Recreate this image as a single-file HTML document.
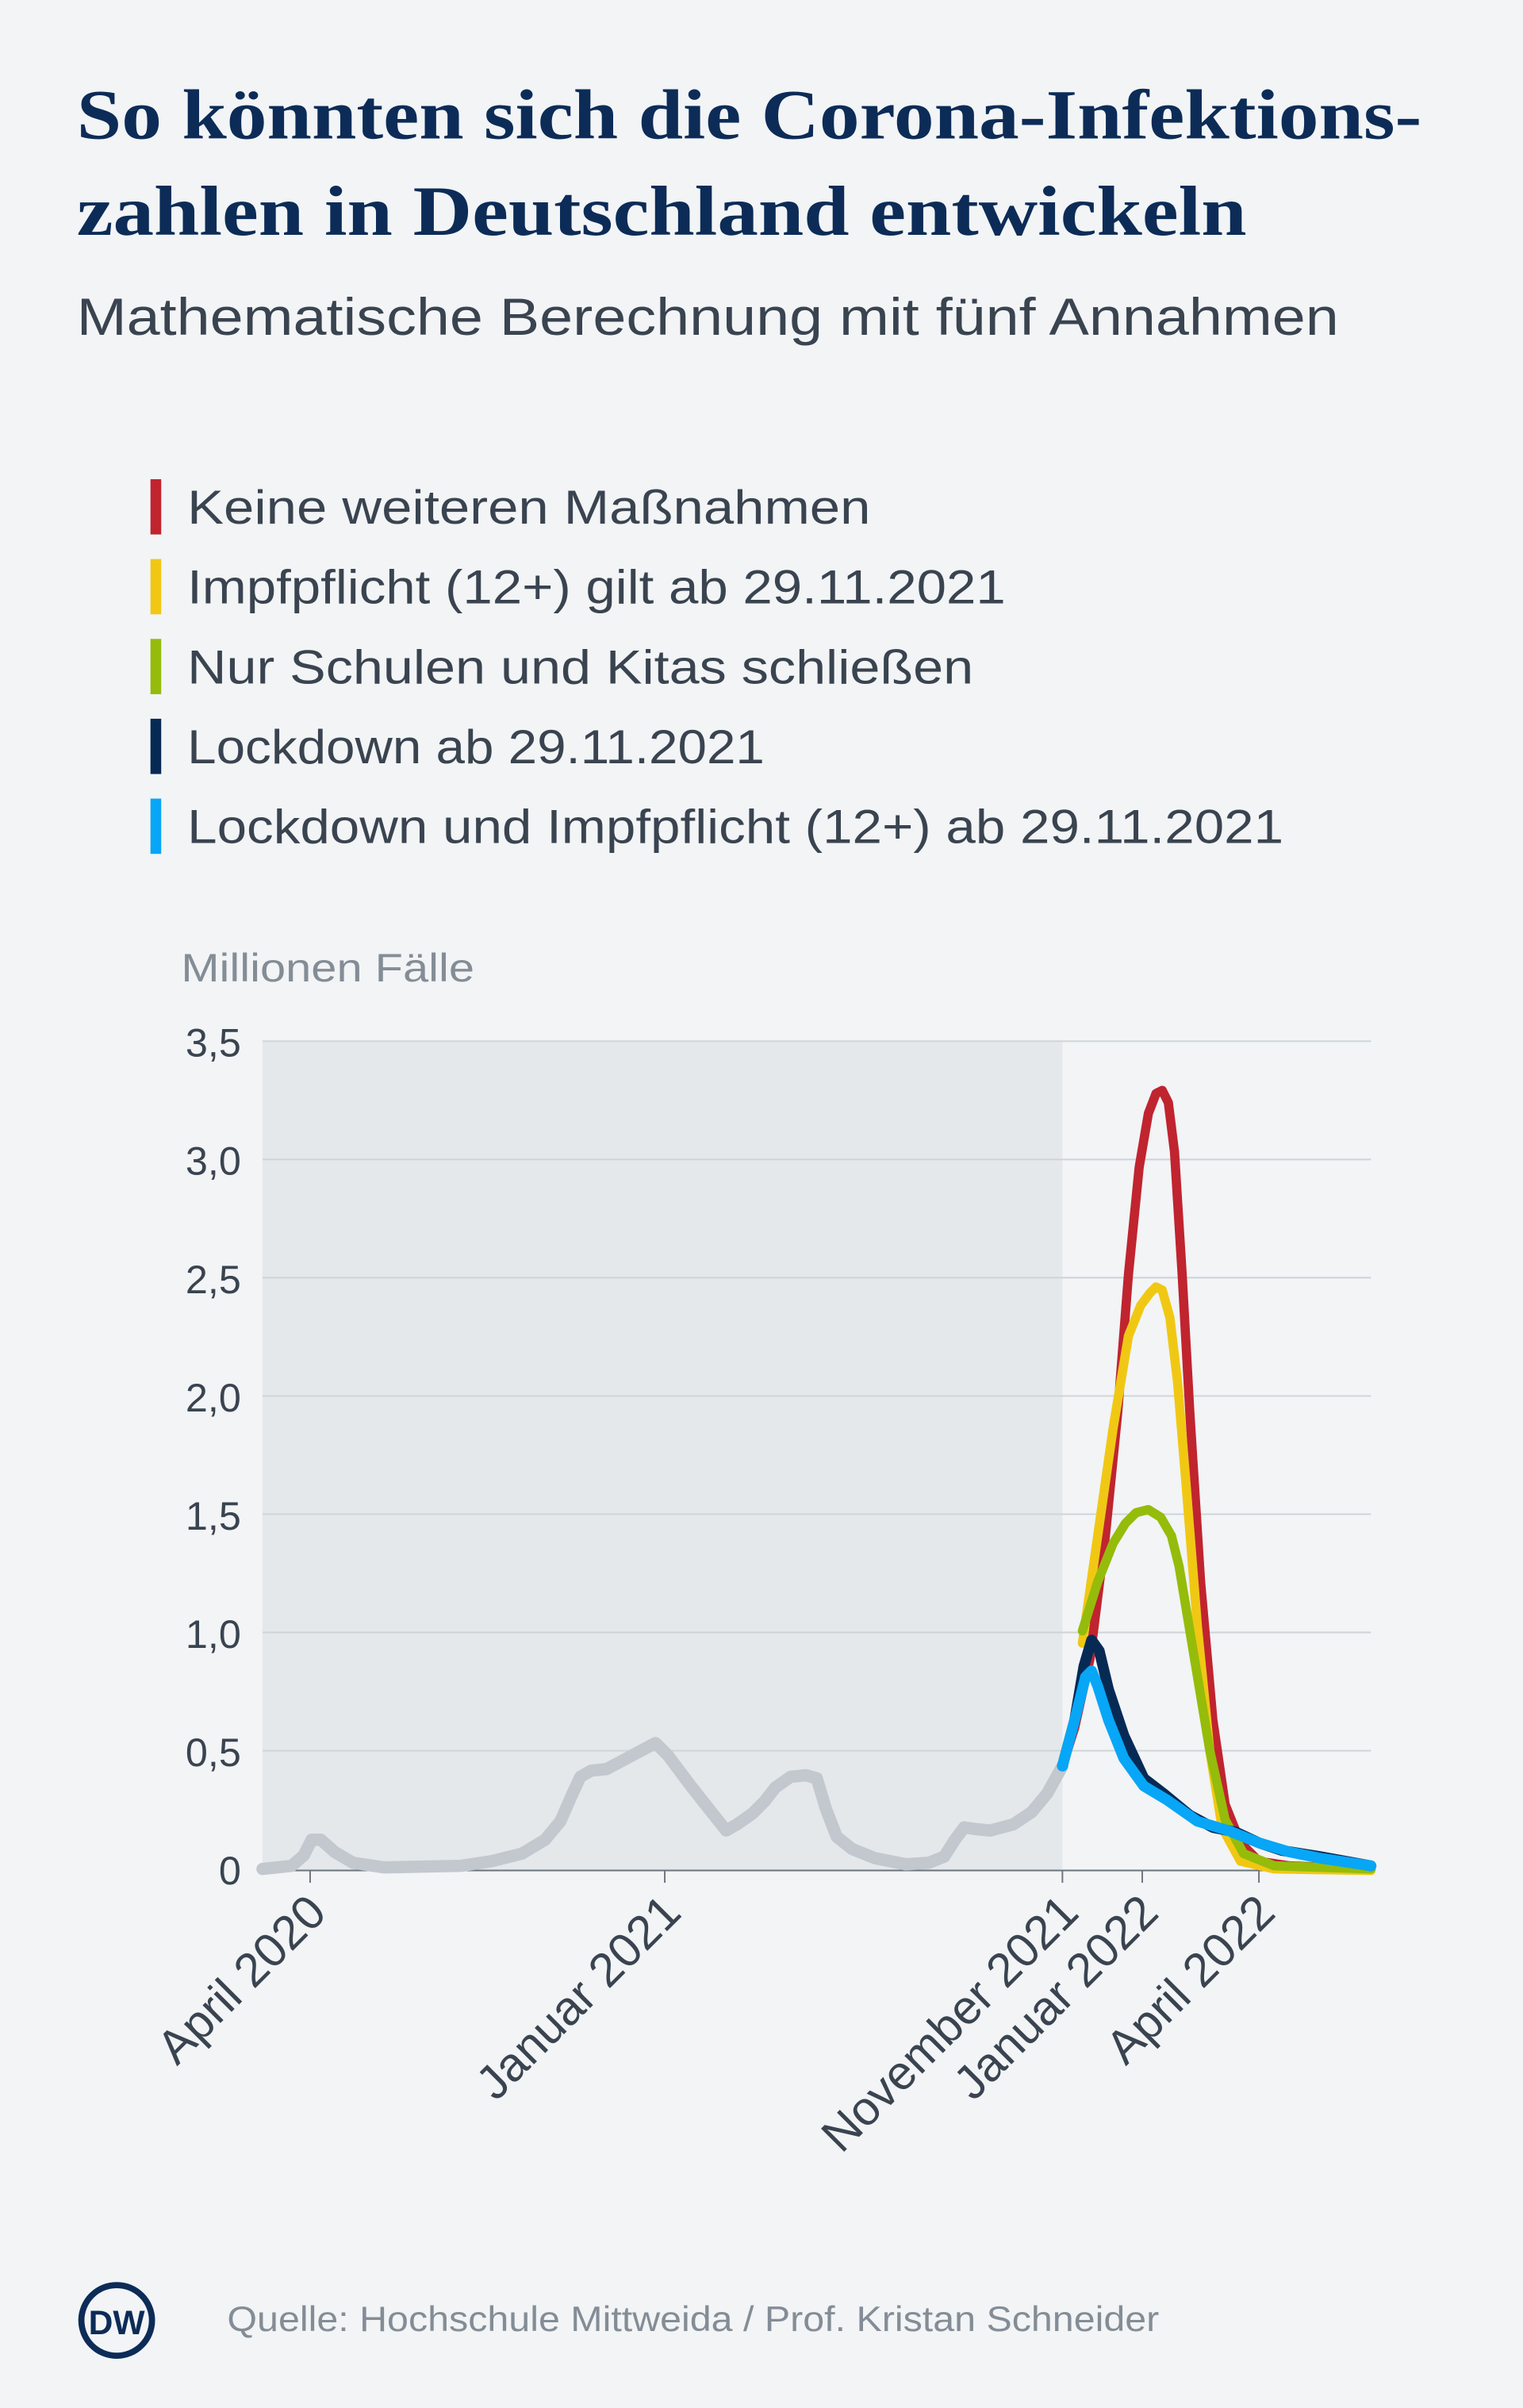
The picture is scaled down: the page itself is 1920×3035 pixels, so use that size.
<!DOCTYPE html>
<html><head><meta charset="utf-8"><style>
html,body{margin:0;padding:0;background:#f2f4f6;}
svg{display:block;}
</style></head><body>
<svg width="1920" height="3035" viewBox="0 0 992 1568" xmlns="http://www.w3.org/2000/svg">
<rect width="992" height="1568" fill="#f2f4f6"/>
<g font-family="Liberation Serif, serif" font-weight="bold" fill="#0c2c57" font-size="46">
<text x="50" y="90" textLength="876" lengthAdjust="spacingAndGlyphs">So könnten sich die Corona-Infektions-</text>
<text x="50" y="153" textLength="762" lengthAdjust="spacingAndGlyphs">zahlen in Deutschland entwickeln</text>
</g>
<text x="50" y="218" font-family="Liberation Sans, sans-serif" font-size="34" fill="#3a4450" textLength="822" lengthAdjust="spacingAndGlyphs">Mathematische Berechnung mit fünf Annahmen</text>
<g font-family="Liberation Sans, sans-serif" font-size="31" fill="#3a4450">
<rect x="98" y="312" width="7" height="36" fill="#c0242f"/><text x="122" y="341" textLength="445" lengthAdjust="spacingAndGlyphs">Keine weiteren Maßnahmen</text>
<rect x="98" y="364" width="7" height="36" fill="#f0c814"/><text x="122" y="393" textLength="533" lengthAdjust="spacingAndGlyphs">Impfpflicht (12+) gilt ab 29.11.2021</text>
<rect x="98" y="416" width="7" height="36" fill="#95bc0a"/><text x="122" y="445" textLength="512" lengthAdjust="spacingAndGlyphs">Nur Schulen und Kitas schließen</text>
<rect x="98" y="468" width="7" height="36" fill="#072a55"/><text x="122" y="497" textLength="376" lengthAdjust="spacingAndGlyphs">Lockdown ab 29.11.2021</text>
<rect x="98" y="520" width="7" height="36" fill="#07a6f6"/><text x="122" y="549" textLength="714" lengthAdjust="spacingAndGlyphs">Lockdown und Impfpflicht (12+) ab 29.11.2021</text>
</g>
<text x="118" y="639" font-family="Liberation Sans, sans-serif" font-size="26" fill="#848d96" textLength="191" lengthAdjust="spacingAndGlyphs">Millionen Fälle</text>
<rect x="171" y="678" width="521" height="540" fill="#e4e8eb"/>
<g stroke="#cdd3d8" stroke-width="1">
<line x1="171" y1="678" x2="893" y2="678"/><line x1="171" y1="755" x2="893" y2="755"/>
<line x1="171" y1="832" x2="893" y2="832"/><line x1="171" y1="909" x2="893" y2="909"/>
<line x1="171" y1="986" x2="893" y2="986"/><line x1="171" y1="1063" x2="893" y2="1063"/>
<line x1="171" y1="1140" x2="893" y2="1140"/>
</g>
<line x1="171" y1="1218" x2="893" y2="1218" stroke="#6b747c" stroke-width="1"/>
<g stroke="#6b747c" stroke-width="1">
<line x1="202" y1="1218" x2="202" y2="1226"/><line x1="433" y1="1218" x2="433" y2="1226"/>
<line x1="692" y1="1218" x2="692" y2="1226"/><line x1="744" y1="1218" x2="744" y2="1226"/>
<line x1="820" y1="1218" x2="820" y2="1226"/>
</g>
<g font-family="Liberation Sans, sans-serif" font-size="26" fill="#3a4450" text-anchor="end">
<text x="157" y="688">3,5</text><text x="157" y="765">3,0</text><text x="157" y="842">2,5</text>
<text x="157" y="919">2,0</text><text x="157" y="996">1,5</text><text x="157" y="1073">1,0</text>
<text x="157" y="1150">0,5</text><text x="157" y="1227">0</text>
</g>
<g font-family="Liberation Sans, sans-serif" font-size="31" fill="#3a4450" text-anchor="end">
<text transform="translate(214,1247) rotate(-45)">April 2020</text>
<text transform="translate(445,1247) rotate(-45)">Januar 2021</text>
<text transform="translate(704,1247) rotate(-45)">November 2021</text>
<text transform="translate(756,1247) rotate(-45)">Januar 2022</text>
<text transform="translate(832,1247) rotate(-45)">April 2022</text>
</g>
<g fill="none" stroke-linejoin="round" stroke-linecap="round">
<polyline stroke="#c2c8ce" stroke-width="8" points="171,1217 190,1215 198,1208 203,1198 209,1198 218,1206 230,1213 250,1216 300,1215 320,1212 340,1207 355,1198 365,1186 372,1170 378,1157 385,1153 395,1152 410,1144 427,1135 435,1143 450,1163 465,1182 473,1192 480,1188 490,1181 498,1173 505,1164 515,1157 525,1156 532,1158 538,1178 545,1196 555,1204 570,1210 590,1214 605,1213 615,1209 622,1198 628,1190 635,1191 645,1192 660,1188 672,1180 682,1168 692,1150"/>
<polyline stroke="#c0242f" stroke-width="6" points="692,1150 700,1125 710,1080 720,1000 728,920 735,830 742,760 748,725 753,712 757,710 761,718 765,750 770,830 775,920 782,1030 790,1120 798,1175 808,1200 820,1212 840,1215 893,1217"/>
<polyline stroke="#f0c814" stroke-width="6" points="705,1070 715,1000 725,930 735,870 743,850 749,842 753,838 757,840 762,858 767,900 772,960 780,1060 788,1140 796,1190 808,1212 830,1217 893,1218"/>
<polyline stroke="#95bc0a" stroke-width="6" points="705,1062 715,1030 725,1005 733,992 740,985 748,983 756,988 763,1000 768,1020 778,1080 788,1140 798,1185 810,1207 830,1215 893,1217"/>
<polyline stroke="#072a55" stroke-width="7" points="692,1150 700,1120 706,1085 711,1068 716,1075 722,1100 732,1130 745,1158 758,1168 775,1182 790,1190 805,1193 820,1200 835,1205 860,1209 893,1215"/>
<polyline stroke="#07a6f6" stroke-width="7" points="692,1150 700,1120 707,1092 711,1088 715,1098 722,1120 732,1145 745,1163 760,1172 780,1186 800,1192 820,1200 840,1206 860,1210 893,1215"/>
</g>
<circle cx="76" cy="1511" r="25" fill="#0c2c57"/>
<circle cx="76" cy="1511" r="21" fill="#f2f4f6"/>
<text x="76" y="1520" font-family="Liberation Sans, sans-serif" font-weight="bold" font-size="22" fill="#0c2c57" text-anchor="middle">DW</text>
<text x="148" y="1518" font-family="Liberation Sans, sans-serif" font-size="23" fill="#848d96" textLength="607" lengthAdjust="spacingAndGlyphs">Quelle: Hochschule Mittweida / Prof. Kristan Schneider</text>
</svg>
</body></html>
